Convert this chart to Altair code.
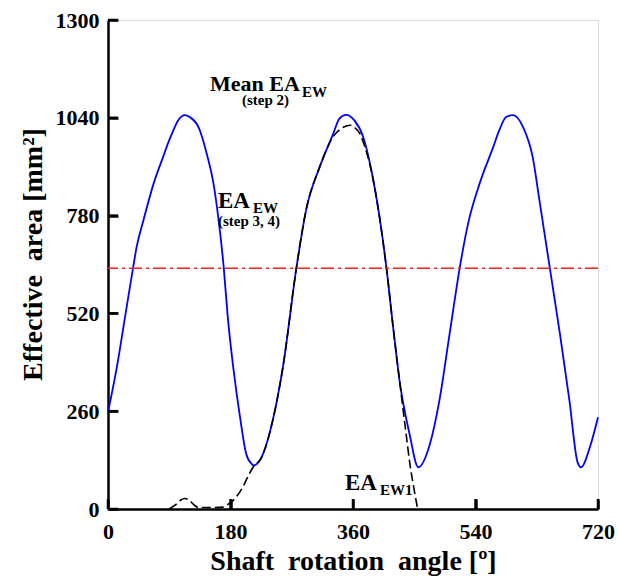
import altair as alt
import pandas as pd

# ---- data ----
blue_angle = [0, 13, 25, 37, 42, 52, 67, 81, 89, 94, 103, 113, 120, 133, 145, 155, 162, 170, 176,
              184, 194, 203, 211, 214, 223, 242, 257, 277, 291, 311, 331, 340, 350, 362, 375, 389,
              399, 409, 419, 429, 443, 456, 473, 487, 502, 517, 529, 546, 566, 575, 585, 595, 610,
              624, 634, 649, 664, 678, 690, 695, 708, 720]
blue_area = [257, 377, 510, 643, 696, 767, 865, 936, 976, 998, 1033, 1047, 1042, 1015, 945, 865, 776,
             643, 510, 377, 244, 147, 120, 116, 129, 235, 377, 643, 794, 909, 998, 1038, 1048, 1033,
             989, 882, 776, 643, 483, 333, 200, 111, 173, 289, 466, 643, 758, 865, 962, 1007, 1042,
             1047, 1015, 936, 820, 643, 466, 289, 124, 111, 164, 244]

black_angle = [90, 100, 107, 113, 120, 127, 133, 150, 169, 176, 184, 198, 208, 216, 223, 242, 257,
               277, 291, 311, 331, 340, 350, 356, 362, 370, 378, 389, 399, 409, 419, 429, 438, 444,
               449, 455]
black_area = [0, 12, 24, 28, 22, 10, 4, 4, 5, 12, 23, 58, 95, 118, 129, 235, 377, 643, 794, 909,
              990, 1008, 1018, 1020, 1015, 998, 960, 882, 776, 643, 483, 333, 200, 115, 60, 0]

mean_area = [640]
x_ticks = [0, 180, 360, 540, 720]
y_ticks = [0, 260, 520, 780, 1040, 1300]

FONT = "Liberation Serif"
W, H = 490, 489
SP = "\u00a0 "

blue_df = pd.DataFrame({"angle": blue_angle, "area": blue_area})
black_df = pd.DataFrame({"angle": black_angle, "area": black_area})
mean_df = pd.DataFrame({"area": mean_area})
xt_df = pd.DataFrame({"tx": x_ticks})
yt_df = pd.DataFrame({"ty": y_ticks})

x_scale = alt.Scale(domain=[0, 720], nice=False, zero=False)
y_scale = alt.Scale(domain=[0, 1300], nice=False)

x_axis = alt.Axis(values=x_ticks, format="d", title="Shaft" + SP + "rotation" + SP + "angle [º]",
                  grid=False, ticks=False, domainColor="black", domainWidth=2.5, labelFont=FONT,
                  labelFontSize=22, labelFontWeight="bold", labelColor="black", labelPadding=12,
                  titleFont=FONT, titleFontSize=28, titleFontWeight="bold", titleColor="black",
                  titlePadding=5, labelFlush=False)
y_axis = alt.Axis(values=y_ticks, format="d", title="Effective" + SP + "area [mm²]", grid=False,
                  ticks=False, domainColor="black", domainWidth=2.5, labelFont=FONT,
                  labelFontSize=22, labelFontWeight="bold", labelColor="black", labelPadding=9,
                  titleFont=FONT, titleFontSize=28, titleFontWeight="bold", titleColor="black",
                  titlePadding=8, titleY=234, labelFlush=False)

# axes used only to draw inward-pointing ticks: a top axis moved down onto the bottom
# edge (ticks point up) and a right axis moved onto the left edge (ticks point right)
x_tick_axis = alt.Axis(orient="top", offset=-H, values=x_ticks, labels=False, domain=False,
                       grid=False, title="", ticks=True, tickSize=10, tickWidth=2.5,
                       tickColor="black")
y_tick_axis = alt.Axis(orient="right", offset=-W, values=y_ticks, labels=False, domain=False,
                       grid=False, title="", ticks=True, tickSize=10, tickWidth=2.5,
                       tickColor="black")

X = alt.X("angle:Q", scale=x_scale, axis=x_axis)
Y = alt.Y("area:Q", scale=y_scale, axis=y_axis)

blue = alt.Chart(blue_df).mark_line(color="#0000ff", strokeWidth=1.8, interpolate="monotone").encode(
    x=X, y=Y)

black = alt.Chart(black_df).mark_line(color="black", strokeWidth=1.6, strokeDash=[9, 4],
                                      interpolate="monotone").encode(x=X, y=Y)

mean_line = alt.Chart(mean_df).mark_rule(color="#ff2020", strokeWidth=1.6,
                                         strokeDash=[13, 4, 3, 4]).encode(y=Y)


def label(text, x, y, size):
    return alt.Chart(pd.DataFrame({"t": [text]})).mark_text(
        font=FONT, fontSize=size, fontWeight="bold", color="black", align="left",
        baseline="alphabetic").encode(text="t:N", x=alt.value(x), y=alt.value(y))


texts = [
    label("Mean EA", 102, 71, 22),
    label("EW", 194, 77, 15),
    label("(step 2)", 134, 85, 15),
    label("EA", 110, 188, 23),
    label("EW", 145, 193, 15),
    label("(step 3, 4)", 110, 206, 15),
    label("EA", 237, 470, 23),
    label("EW1", 272, 475, 15),
]

main = alt.layer(blue, black, mean_line, *texts)

xticks = alt.Chart(xt_df).mark_rule(color="black", strokeWidth=2.5).encode(
    x=alt.X("tx:Q", scale=x_scale, axis=x_tick_axis), y=alt.value(H), y2=alt.value(H - 10))
yticks = alt.Chart(yt_df).mark_rule(color="black", strokeWidth=2.5).encode(
    y=alt.Y("ty:Q", scale=y_scale, axis=y_tick_axis), x=alt.value(0), x2=alt.value(10))
ticks = alt.layer(xticks, yticks)

chart = alt.layer(main, ticks).resolve_scale(x="independent", y="independent").properties(
    width=W, height=H,
    autosize=alt.AutoSizeParams(type="none"),
    padding={"left": 108, "top": 20, "right": 19, "bottom": 74},
).configure_view(stroke=None).configure(background="white")

chart.save("out.html", embed_options={"renderer": "svg", "actions": False})
